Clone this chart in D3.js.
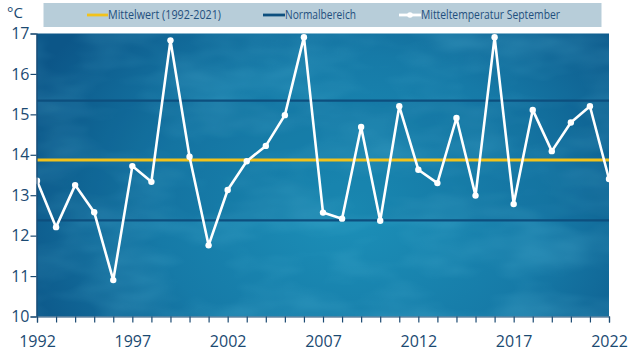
<!DOCTYPE html>
<html><head><meta charset="utf-8">
<script src="https://cdn.jsdelivr.net/npm/d3@7"></script>
<style>
html,body{margin:0;padding:0;background:#fff;}
svg{display:block;font-family:"Open Sans",sans-serif;}
</style></head>
<body>
<svg id="c" width="632" height="355"></svg>
<script>
const years = d3.range(1992, 2023);
const temps = [13.36,12.21,13.25,12.58,10.90,13.72,13.33,16.83,13.95,11.76,
               13.13,13.84,14.22,14.98,16.91,12.57,12.42,14.69,12.37,15.20,
               13.63,13.30,14.91,12.99,16.91,12.78,15.11,14.09,14.80,15.20,13.40];
const meanValue = 13.87;
const normalRange = [12.38, 15.34];
const yTicks = [10,11,12,13,14,15,16,17];
const xTickLabels = [1992,1997,2002,2007,2012,2017,2022];
const legendLabels = ["Mittelwert (1992-2021)","Normalbereich","Mitteltemperatur September"];

const svg = d3.select("#c");
const L = 37, R = 609, T = 33.5, B = 316.5;
const x = d3.scaleLinear().domain([1992,2022]).range([L,R]);
const y = d3.scaleLinear().domain([10,17]).range([B,T]);
const txt = "#1b4a72";

const defs = svg.append("defs");
const rg = defs.append("radialGradient").attr("id","bg")
  .attr("cx","0.55").attr("cy","0.62").attr("r","0.62")
  .attr("gradientTransform","translate(0.55,0.62) scale(1,1.6) translate(-0.55,-0.62)");
rg.append("stop").attr("offset","0").attr("stop-color","#1c90b8");
rg.append("stop").attr("offset","0.55").attr("stop-color","#167aa7");
rg.append("stop").attr("offset","1").attr("stop-color","#0c5688");
const f = defs.append("filter").attr("id","cloud").attr("x","0").attr("y","0").attr("width","1").attr("height","1");
f.append("feTurbulence").attr("type","fractalNoise").attr("baseFrequency","0.012 0.03").attr("numOctaves","3").attr("seed","7");
f.append("feColorMatrix").attr("type","matrix")
  .attr("values","0 0 0 0 0.15  0 0 0 0 0.6  0 0 0 0 0.8  0 0 0 1.2 -0.45");

svg.append("rect").attr("x",L-0.5).attr("y",T).attr("width",R-L+0.5).attr("height",B-T).attr("fill","url(#bg)");
svg.append("rect").attr("x",L-0.5).attr("y",T).attr("width",R-L+0.5).attr("height",B-T)
  .attr("filter","url(#cloud)").attr("opacity",0.35);
svg.append("rect").attr("x",L).attr("y",y(normalRange[1])).attr("width",R-L)
  .attr("height",y(normalRange[0])-y(normalRange[1])).attr("fill","#0a4a78").attr("opacity",0.12);

svg.append("g").selectAll("line").data(normalRange).join("line")
  .attr("x1",L).attr("x2",R).attr("y1",d=>y(d)).attr("y2",d=>y(d))
  .attr("stroke","#0d4f7e").attr("stroke-width",2.2);
svg.append("line").attr("x1",L).attr("x2",R).attr("y1",y(meanValue)).attr("y2",y(meanValue))
  .attr("stroke","#f2c21b").attr("stroke-width",3);

const line = d3.line().x((d,i)=>x(years[i])).y(d=>y(d));
svg.append("path").datum(temps).attr("d",line).attr("fill","none")
  .attr("stroke","#ffffff").attr("stroke-width",2.6).attr("stroke-linejoin","round");
svg.append("g").selectAll("circle").data(temps).join("circle")
  .attr("cx",(d,i)=>x(years[i])).attr("cy",d=>y(d)).attr("r",3.2).attr("fill","#ffffff");

const yAxis = d3.axisLeft(y).tickValues(yTicks).tickSize(6).tickPadding(5).tickFormat(d3.format("d"));
const gy = svg.append("g").attr("transform",`translate(${L-0.5},0)`).call(yAxis);
gy.select(".domain").attr("stroke",txt).attr("stroke-width",1.2);
gy.selectAll(".tick line").attr("stroke",txt).attr("stroke-width",1.2);
gy.selectAll(".tick text").attr("fill",txt).style("font-size","16px").style("font-family","'Open Sans',sans-serif").attr("x",-7);

const xAxis = d3.axisBottom(x).tickValues(years).tickSize(6).tickFormat(d=>xTickLabels.includes(d)?d:"");
const gx = svg.append("g").attr("transform",`translate(0,${B})`).call(xAxis);
gx.select(".domain").attr("stroke",txt).attr("stroke-width",1.2);
gx.selectAll(".tick line").attr("stroke",txt).attr("stroke-width",1.2);
gx.selectAll(".tick text").attr("fill",txt).style("font-size","16px").style("font-family","'Open Sans',sans-serif").attr("y",19);

svg.append("text").attr("x",7).attr("y",18).attr("fill",txt).style("font-size","15px").text("°C");

svg.append("rect").attr("x",43.5).attr("y",3).attr("width",558).attr("height",24).attr("fill","#b7cdd9");
const lg = [
  {x1:87,x2:108,color:"#f2c21b",marker:false,w:113},
  {x1:263,x2:285,color:"#0d4f7e",marker:false,w:71},
  {x1:399,x2:421,color:"#ffffff",marker:true,w:139}
];
const li = svg.append("g").selectAll("g").data(lg).join("g");
li.append("line").attr("x1",d=>d.x1).attr("x2",d=>d.x2).attr("y1",15).attr("y2",15)
  .attr("stroke",d=>d.color).attr("stroke-width",2.8);
li.filter(d=>d.marker).append("circle").attr("cx",d=>(d.x1+d.x2)/2).attr("cy",15).attr("r",2.8).attr("fill","#fff");
li.append("text").attr("x",d=>d.x2).attr("y",19).attr("fill","#1f4f7d")
  .style("font-size","12px").attr("textLength",d=>d.w).attr("lengthAdjust","spacingAndGlyphs")
  .text((d,i)=>legendLabels[i]);
</script>
</body></html>
